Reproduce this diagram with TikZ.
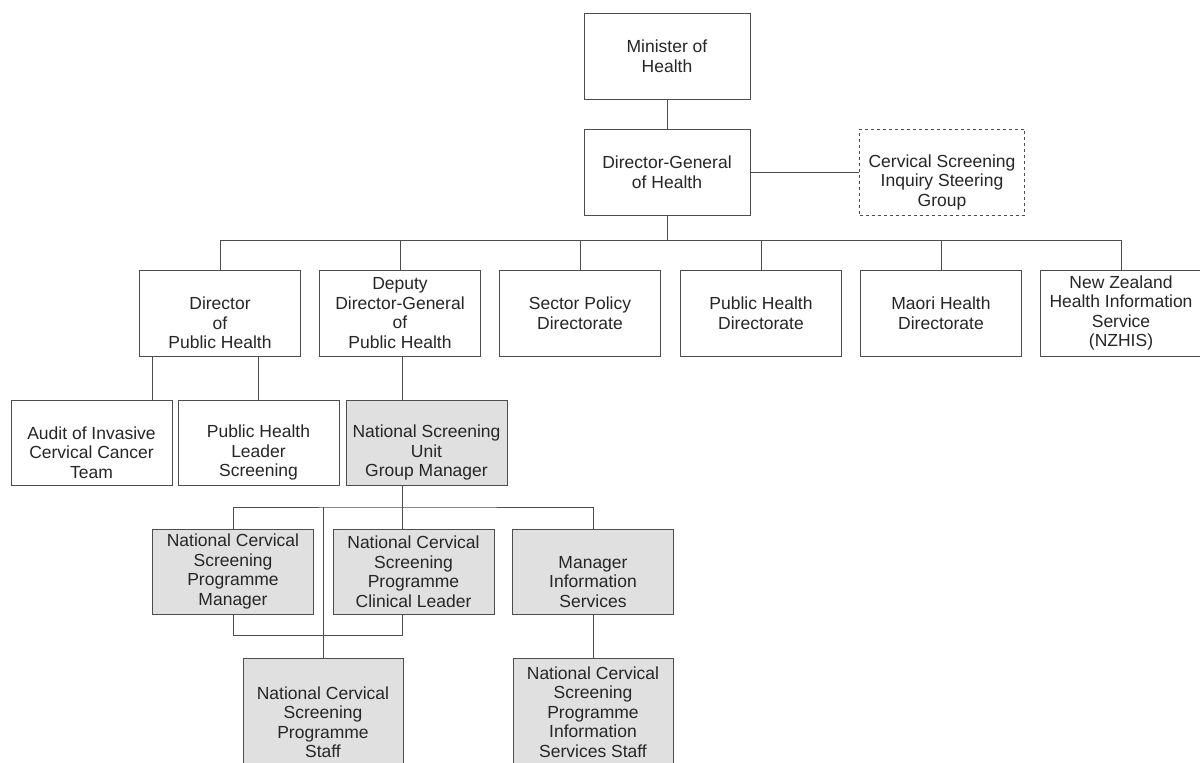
\documentclass[tikz,border=0pt]{standalone}
\usepackage{fontspec}
\setmainfont{Liberation Sans}
\usepackage{xcolor}
\definecolor{linegray}{HTML}{4D4D4D}
\definecolor{boxgray}{HTML}{E0E0E0}
\definecolor{textgray}{HTML}{262626}

\begin{document}
\begin{tikzpicture}[x=1pt,y=-1pt,
  box/.style={draw=linegray, line width=1pt, fill=white, minimum width=161pt, minimum height=86pt, inner sep=0pt, align=center, text=textgray, font=\fontsize{17.5}{19.5}\selectfont},
  greybox/.style={box, fill=boxgray},
  link/.style={draw=linegray, line width=1pt}]
\clip (0,0) rectangle (1200,763);

\node[box, minimum width=166pt] (minister) at (667,56) {Minister of\\Health};
\node[box, minimum width=166pt] (dg) at (667,172) {Director-General\\of Health};
\node[box, dashed, minimum width=165pt] (inquiry) at (942,172) {\strut\\Cervical Screening\\Inquiry Steering\\Group};

\node[box] (dph) at (220,313) {\strut\\Director\\of\\Public Health};
\node[box] (ddg) at (400,313) {Deputy\\Director-General\\of\\Public Health};
\node[box] (sector) at (580,313) {Sector Policy\\Directorate};
\node[box] (phd) at (761,313) {Public Health\\Directorate};
\node[box] (maori) at (941,313) {Maori Health\\Directorate};
\node[box] (nzhis) at (1121,313) {New Zealand\\Health Information\\Service\\(NZHIS)};

\node[box, minimum height=85pt] (audit) at (91.5,442.5) {\strut\\Audit of Invasive\\Cervical Cancer\\Team};
\node[box, minimum height=85pt] (leader) at (258.5,442.5) {\strut\\Public Health\\Leader\\Screening};
\node[greybox, minimum height=85pt] (nsu) at (426.5,442.5) {\strut\\National Screening\\Unit\\Group Manager};

\node[greybox, minimum height=85pt] (ncspm) at (233,571.5) {National Cervical\\Screening\\Programme\\Manager};
\node[greybox, minimum height=85pt] (clinical) at (413.5,571.5) {National Cervical\\Screening\\Programme\\Clinical Leader};
\node[greybox, minimum height=85pt] (mis) at (593,571.5) {\strut\\Manager\\Information\\Services};

\node[greybox, minimum width=160pt, minimum height=128pt] (staff) at (323,722) {National Cervical\\Screening\\Programme\\Staff};
\node[greybox, minimum width=160pt, minimum height=108pt] (isstaff) at (593,712) {National Cervical\\Screening\\Programme\\Information\\Services Staff};

\coordinate (topbus) at (667,240);
\coordinate (unitbus) at (402,507);
\coordinate (teambus) at (402,635);

\draw[link] (minister) -- (dg);
\draw[link] (dg) -- (inquiry);
\draw[link] (dg.south) -- (topbus);
\foreach \n in {dph,ddg,sector,phd,maori,nzhis}
  \draw[link] (topbus) -| (\n.north);

\draw[link] ([xshift=61pt]audit.north) -- ([xshift=61pt]audit.north |- dph.south);
\draw[link] (leader.north) -- (leader.north |- dph.south);
\draw[link] (ddg.south -| unitbus) -- (nsu.north -| unitbus);

\draw[link] (nsu.south -| unitbus) -- (unitbus);
\draw[link] (ncspm.north) |- (unitbus) -| (mis.north);
\draw[link] (unitbus) -- (clinical.north -| unitbus);
\draw[link] (staff.north) -- (staff.north |- unitbus);
\draw[link] (ncspm.south) |- (teambus) -- (clinical.south -| teambus);
\draw[link] (mis) -- (isstaff);

\end{tikzpicture}
\end{document}
